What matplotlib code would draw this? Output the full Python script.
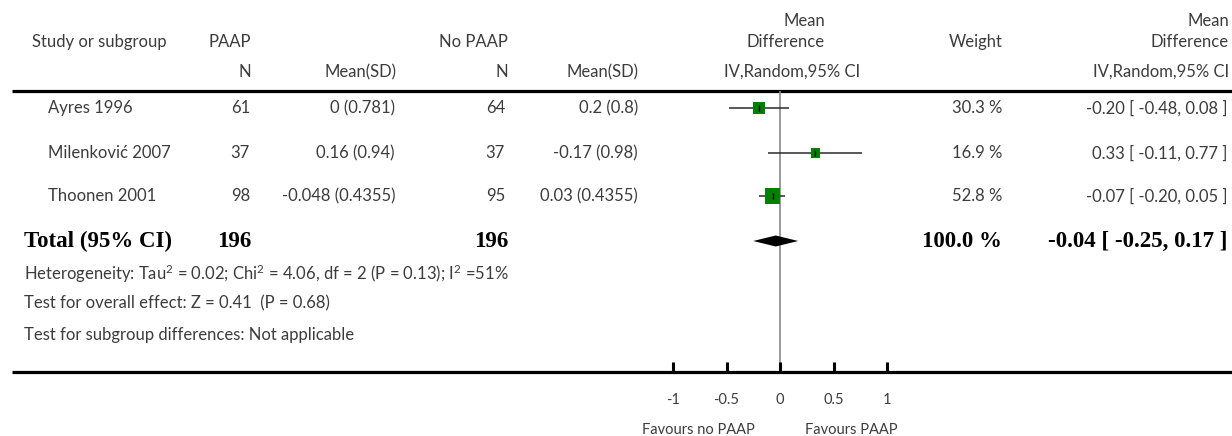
import matplotlib
matplotlib.use("Agg")
import matplotlib.pyplot as plt

# ---------------- data ----------------
studies = ["Ayres 1996", "Milenković 2007", "Thoonen 2001"]
n_paap = [61, 37, 98]
msd_paap = ["0 (0.781)", "0.16 (0.94)", "-0.048 (0.4355)"]
n_nopaap = [64, 37, 95]
msd_nopaap = ["0.2 (0.8)", "-0.17 (0.98)", "0.03 (0.4355)"]
md = [-0.20, 0.33, -0.07]
ci_lo = [-0.48, -0.11, -0.20]
ci_hi = [0.08, 0.77, 0.05]
weights = [30.3, 16.9, 52.8]
total_n_paap = 196
total_n_nopaap = 196
total_md, total_lo, total_hi = -0.04, -0.25, 0.17
total_weight = 100.0
heterogeneity = r"Heterogeneity: Tau$^{2}$ = 0.02; Chi$^{2}$ = 4.06, df = 2 (P = 0.13); I$^{2}$ =51%"
overall = "Test for overall effect: Z = 0.41  (P = 0.68)"
subgroup = "Test for subgroup differences: Not applicable"
xticks = [-1, -0.5, 0, 0.5, 1]
xticklabels = ["-1", "-0.5", "0", "0.5", "1"]
fav_left = "Favours no PAAP"
fav_right = "Favours PAAP"

# ---------------- style ----------------
W, H = 1232, 436
plt.rcParams["font.family"] = ["Lato", "DejaVu Sans"]
plt.rcParams["mathtext.fontset"] = "custom"
plt.rcParams["mathtext.rm"] = "Lato"
plt.rcParams["mathtext.it"] = "Lato:italic"
plt.rcParams["mathtext.bf"] = "Lato:bold"
TXT = "#3c3c3c"
FS = 12
BFS = 16.5
SERIF = ["Liberation Serif", "DejaVu Serif"]

fig = plt.figure(figsize=(W / 100, H / 100), dpi=100)
ax = fig.add_axes([0, 0, 1, 1])
ax.set_xlim(0, W)
ax.set_ylim(H, 0)
ax.axis("off")

def t(x, y, s, ha="left", **kw):
    kw.setdefault("fontsize", FS)
    kw.setdefault("color", TXT)
    ax.text(x, y, s, ha=ha, va="center", **kw)

# headers
t(32, 42, "Study or subgroup")
t(251, 42, "PAAP", ha="right")
t(508, 42, "No PAAP", ha="right")
t(825, 21, "Mean", ha="right")
t(825, 42, "Difference", ha="right")
t(1003, 42, "Weight", ha="right")
t(1229, 21, "Mean", ha="right")
t(1229, 42, "Difference", ha="right")
t(251, 72, "N", ha="right")
t(396, 72, "Mean(SD)", ha="right")
t(508, 72, "N", ha="right")
t(639, 72, "Mean(SD)", ha="right")
t(792, 72, "IV,Random,95% CI", ha="center")
t(1229, 72, "IV,Random,95% CI", ha="right")

# rules
ax.plot([12, W], [91, 91], color="black", lw=2.3, solid_capstyle="butt")
ax.plot([12, W], [372, 372], color="black", lw=2.3, solid_capstyle="butt")

row_y = [108, 153, 196]
total_y = 241
for i, y in enumerate(row_y):
    t(48, y, studies[i])
    t(250, y, str(n_paap[i]), ha="right")
    t(395, y, msd_paap[i], ha="right")
    t(505, y, str(n_nopaap[i]), ha="right")
    t(638, y, msd_nopaap[i], ha="right")
    t(1002, y, f"{weights[i]:.1f} %", ha="right")
    t(1227, y, f"{md[i]:.2f} [ {ci_lo[i]:.2f}, {ci_hi[i]:.2f} ]", ha="right")

bold = dict(fontsize=BFS, fontweight="bold", color="black", family=SERIF)
t(24, total_y, "Total (95% CI)", **bold)
t(251, total_y, str(total_n_paap), ha="right", **bold)
t(508, total_y, str(total_n_nopaap), ha="right", **bold)
t(1002, total_y, f"{total_weight:.1f} %", ha="right", **bold)
t(1228, total_y, f"{total_md:.2f} [ {total_lo:.2f}, {total_hi:.2f} ]", ha="right", **bold)

t(24, 274, heterogeneity)
t(24, 303, overall)
t(24, 335, subgroup)

t(698, 430, fav_left, ha="center", fontsize=10.5)
t(851, 430, fav_right, ha="center", fontsize=10.5)

# ---------------- forest axes ----------------
x0, x1 = 673, 887
ytop, ybot = 91, 372
fa = fig.add_axes([x0 / W, (H - ybot) / H, (x1 - x0) / W, (ybot - ytop) / H])
fa.set_xlim(-1, 1)
fa.set_ylim(ybot, ytop)
fa.patch.set_alpha(0)
for sp in fa.spines.values():
    sp.set_visible(False)
fa.set_yticks([])
fa.set_xticks(xticks)
fa.set_xticklabels(xticklabels)
fa.tick_params(axis="x", direction="in", length=7, width=2.2, pad=15,
               labelsize=10.5, labelcolor=TXT, color="black")

fa.axvline(0, color="#8a8a8a", lw=1.2, zorder=1)
fa.hlines(row_y, ci_lo, ci_hi, color="#2a2a2a", lw=1.1, zorder=2)
fa.scatter(md, row_y, s=[2.5 * w for w in weights], marker="s", color="#008000",
           linewidths=0, zorder=3)
fa.scatter(md, row_y, s=25, marker="|", color="black", linewidths=1.0, zorder=4)

dh = 5.5
fa.fill([total_lo, total_md, total_hi, total_md],
        [total_y, total_y - dh, total_y, total_y + dh], color="black", lw=0, zorder=3)

fig.savefig("out.png", dpi=100)
